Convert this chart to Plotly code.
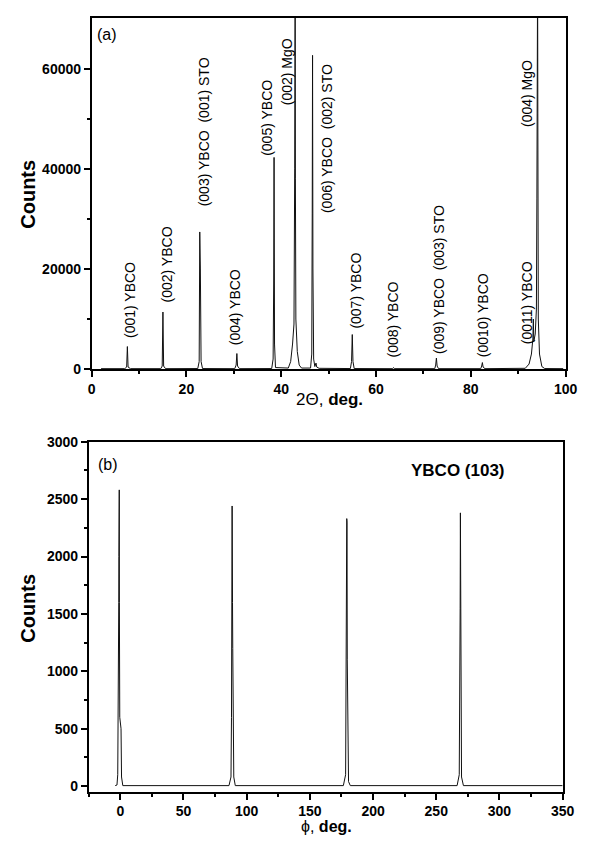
import plotly.graph_objects as go

W, H = 598, 848

# ---------------- Panel (a): 2-theta scan ----------------
two_theta = [2.0, 7.0, 7.4, 7.55, 7.7, 8.2,
             14.6, 14.9, 15.05, 15.2, 15.6,
             22.4, 22.7, 22.82, 22.88, 22.95, 23.1, 23.4,
             30.2, 30.5, 30.65, 30.8, 31.2,
             38.0, 38.3, 38.42, 38.5, 38.6, 38.8,
             41.5, 42.0, 42.4, 42.7, 42.85, 42.9, 42.95, 43.0, 43.1, 43.4, 43.8, 44.3,
             46.2, 46.45, 46.55, 46.62, 46.7, 46.85, 47.1, 47.35, 47.5, 48.0,
             54.6, 54.85, 55.0, 55.15, 55.4,
             63.5, 63.7, 63.9,
             72.4, 72.6, 72.75, 72.9, 73.2,
             82.1, 82.3, 82.45, 82.6, 83.0,
             91.5, 92.3, 92.8, 93.1, 93.2, 93.3, 93.6, 93.85, 93.95, 94.0, 94.1, 94.15, 94.25,
             94.5, 95.0, 95.6, 99.5]
counts_a = [80, 80, 400, 4500, 400, 80,
            80, 600, 11400, 600, 80,
            100, 1500, 27400, 24000, 20000, 1500, 100,
            80, 800, 3100, 600, 80,
            100, 2000, 17000, 42300, 5000, 300,
            200, 1500, 5000, 9000, 40000, 80000, 80000, 38000, 10000, 3500, 800, 200,
            200, 3000, 31000, 62700, 20000, 2000, 500, 1200, 400, 150,
            100, 1500, 6900, 1500, 100,
            80, 300, 80,
            80, 800, 2200, 600, 80,
            80, 600, 1300, 400, 80,
            150, 1000, 3000, 6000, 10000, 5500, 7000, 12000, 34000, 80000, 80000, 51000, 10000,
            3000, 500, 100, 80]

peak_labels = ["(001) YBCO", "(002) YBCO", "(003) YBCO\u00a0\u00a0(001) STO", "(004) YBCO",
               "(005) YBCO", "(002) MgO", "(006) YBCO\u00a0\u00a0(002) STO", "(007) YBCO",
               "(008) YBCO", "(009) YBCO\u00a0\u00a0(003) STO", "(0010) YBCO", "(0011) YBCO",
               "(004) MgO"]
label_x = [8.0, 15.8, 23.6, 30.2, 37.0, 41.1, 49.7, 55.6, 63.7, 73.3, 82.5, 91.8, 92.0]
label_y = [13700, 21000, 47400, 12300, 50200, 59400, 46000, 15700, 9800, 17800, 10700, 13300, 55100]

xa_ticks = [0, 20, 40, 60, 80, 100]
ya_ticks = [0, 20000, 40000, 60000]

# ---------------- Panel (b): phi scan ----------------
phi = [-4.0, -2.6, -2.0, -1.6, -1.4, -1.2, -1.1, -1.0, -0.95, -0.9, -0.85, -0.8, -0.7, -0.4, 0.2, 0.6, 1.0, 2.0,
       86.0, 87.6, 88.0, 88.3, 88.5, 88.6, 88.7, 88.8, 89.0, 89.2, 89.4, 89.8, 91.0,
       176.5, 178.3, 178.7, 179.0, 179.2, 179.3, 179.4, 179.6, 179.9, 180.2, 180.6, 182.0,
       266.5, 268.2, 268.6, 268.9, 269.1, 269.2, 269.3, 269.5, 269.7, 270.0, 271.5, 350.0]
counts_b = [5, 10, 100, 600, 900, 1600, 2000, 2380, 1700, 2300, 1650, 2580, 1600, 600, 500, 500, 80, 5,
            5, 80, 600, 1600, 2440, 1700, 2250, 1600, 1200, 760, 300, 80, 5,
            5, 100, 800, 1500, 2330, 1800, 2300, 1100, 830, 200, 40, 5,
            5, 100, 600, 1550, 2380, 1700, 2300, 900, 400, 80, 5, 5]

xb_ticks = [0, 50, 100, 150, 200, 250, 300, 350]
yb_ticks = [0, 500, 1000, 1500, 2000, 2500, 3000]


def px(x):
    return x / W


def py(y):
    return 1 - y / H


def bold(vals):
    return ["<b>%d</b>" % v for v in vals]


FONT = "Arial, Liberation Sans, sans-serif"
LINE = "#111111"

fig = go.Figure()
fig.add_trace(go.Scatter(x=two_theta, y=counts_a, mode="lines",
                         line=dict(color=LINE, width=1), xaxis="x", yaxis="y",
                         showlegend=False, hoverinfo="skip"))
fig.add_trace(go.Scatter(x=phi, y=counts_b, mode="lines",
                         line=dict(color=LINE, width=1), xaxis="x2", yaxis="y2",
                         showlegend=False, hoverinfo="skip"))

axis_common = dict(showline=True, linecolor="black", linewidth=1.5, mirror=True,
                   ticks="outside", ticklen=6, tickwidth=1.5, tickcolor="black",
                   showgrid=False, zeroline=False,
                   tickfont=dict(family=FONT, size=14, color="black"))
minor_common = dict(ticks="outside", ticklen=3, tickwidth=1.5, tickcolor="black")

fig.update_layout(
    width=W, height=H, autosize=False,
    margin=dict(l=0, r=0, t=0, b=0),
    paper_bgcolor="white", plot_bgcolor="white",
    xaxis=dict(domain=[px(90), px(577)], range=[0, 100], tickvals=xa_ticks, ticktext=bold(xa_ticks),
               minor=dict(dtick=10, tick0=0, **minor_common), anchor="y", **axis_common),
    yaxis=dict(domain=[py(368), py(10)], range=[0, 70200], tickvals=ya_ticks, ticktext=bold(ya_ticks),
               minor=dict(tickvals=[10000, 30000, 50000], **minor_common), anchor="x", **axis_common),
    xaxis2=dict(domain=[px(87), px(574)], range=[-25, 350], tickvals=xb_ticks, ticktext=bold(xb_ticks),
                minor=dict(dtick=25, tick0=0, **minor_common), anchor="y2", **axis_common),
    yaxis2=dict(domain=[py(799), py(442)], range=[-50, 3000], tickvals=yb_ticks, ticktext=bold(yb_ticks),
                minor=dict(dtick=250, tick0=0, **minor_common), anchor="x2", **axis_common),
)

annotations = []
for t, x, y in zip(peak_labels, label_x, label_y):
    annotations.append(dict(text=t, x=x, y=y, xref="x", yref="y", textangle=-90,
                            showarrow=False, xanchor="center", yanchor="middle",
                            font=dict(family=FONT, size=14, color="black")))


def paper_text(text, x, y, size, angle=0):
    return dict(text=text, x=px(x), y=py(y), xref="paper", yref="paper", showarrow=False,
                xanchor="center", yanchor="middle", textangle=angle,
                font=dict(family=FONT, size=size, color="black"))


annotations += [
    paper_text("(a)", 106, 27, 16),
    paper_text("(b)", 107, 465, 16),
    paper_text("<b>YBCO (103)</b>", 466, 471, 17),
    paper_text("<b>Counts</b>", 25, 190, 20, -90),
    paper_text("<b>Counts</b>", 25, 612, 20, -90),
    paper_text("2\u0398, <b>deg.</b>", 334, 399, 17),
    paper_text("\u03d5, <b>deg.</b>", 331, 834, 16),
]
fig.update_layout(annotations=annotations)

# remove the page's default body margin so the 598x848 figure fills the window exactly
fig.write_html("out.html", config={"displayModeBar": False},
               post_script="document.body.style.margin='0';document.body.style.overflow='hidden';")
